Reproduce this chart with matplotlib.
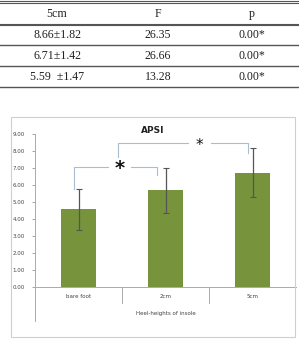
import matplotlib
matplotlib.use("Agg")
import matplotlib.pyplot as plt
from matplotlib.patches import Rectangle
from matplotlib.lines import Line2D

# ---- data ----
table_header = ["5cm", "F", "p"]
table_rows = [["8.66±1.82", "26.35", "0.00*"],
              ["6.71±1.42", "26.66", "0.00*"],
              ["5.59  ±1.47", "13.28", "0.00*"]]

categories = ["bare foot", "2cm", "5cm"]
means = [4.57, 5.68, 6.73]
errors = [1.20, 1.33, 1.45]
yticks = [0, 1, 2, 3, 4, 5, 6, 7, 8, 9]
title = "APSI"
xlabel = "Heel-heights of insole"
# (x_left, x_right, top, left_end, right_end, star_x)
brackets = [(-0.05, 0.90, 7.05, 5.75, 6.6, 0.47),
            (0.45, 1.95, 8.47, 7.65, 7.88, 1.39)]

W, H = 299, 339
fig = plt.figure(figsize=(W / 100, H / 100), dpi=100)
fig.patch.set_facecolor("white")

def fx(px):
    return px / W

def fy(py):
    return 1 - py / H

# ---- table ----
col_x = [57, 158, 252]
line_c = "#555555"
for y, lw in [(1, 0.8), (3, 0.8), (23.5, 0.8), (25, 0.8), (45, 1.0), (66, 1.0), (87, 1.0)]:
    fig.add_artist(Line2D([0, 1], [fy(y), fy(y)], color=line_c, lw=lw))
for x, t in zip(col_x, table_header):
    fig.text(fx(x), fy(14), t, ha="center", va="center",
             family="Liberation Serif", fontsize=8.6, color="#222222")
row_y = [35, 56, 77]
for ry, row in zip(row_y, table_rows):
    for x, t in zip(col_x, row):
        fig.text(fx(x), fy(ry), t, ha="center", va="center",
                 family="Liberation Serif", fontsize=8.6, color="#222222")

# ---- chart frame ----
fig.add_artist(Rectangle((fx(11), fy(337)), fx(295) - fx(11), fy(117) - fy(337),
                         transform=fig.transFigure, fill=False, ec="#cfcfcf", lw=0.8))

ax_l, ax_r, ax_t, ax_b = 35, 296, 134, 287
ax = fig.add_axes([fx(ax_l), fy(ax_b), fx(ax_r) - fx(ax_l), fy(ax_t) - fy(ax_b)])
x = list(range(len(categories)))
ax.bar(x, means, width=0.4, color="#77933C", zorder=2)
ax.errorbar(x, means, yerr=errors, fmt="none", ecolor="#555555", elinewidth=0.9,
            capsize=2, capthick=0.8, zorder=3)
ax.set_xlim(-0.5, 2.5)
ax.set_ylim(0, 9)
ax.set_yticks(yticks)
ax.set_yticklabels([f"{v:.2f}" for v in yticks], fontsize=4, color="#444444")
ax.tick_params(axis="y", length=2.5, width=0.6, color="#999999", pad=5)
ax.set_xticks([])
for s in ["top", "right"]:
    ax.spines[s].set_visible(False)
ax.spines["left"].set_visible(False)
ax.spines["bottom"].set_color("#aaaaaa")
ax.spines["bottom"].set_linewidth(0.7)
ax.set_facecolor("none")

tr = ax.get_xaxis_transform()
ax.add_line(Line2D([-0.5, -0.5], [-0.222, 1.0], transform=tr, color="#aaaaaa", lw=0.7, clip_on=False))
for b in [0.5, 1.5]:
    ax.add_line(Line2D([b, b], [0, -0.105], transform=tr, color="#aaaaaa", lw=0.7, clip_on=False))
for xi, c in zip(x, categories):
    ax.text(xi, -0.065, c, transform=tr, ha="center", va="center", fontsize=4, color="#444444")
ax.text(1, -0.176, xlabel, transform=tr, ha="center", va="center", fontsize=4, color="#444444")

fig.text(fx(153), fy(130), title, ha="center", va="center", fontsize=6.5,
         fontweight="bold", color="#222222")

# ---- significance brackets ----
bc = "#a9bcd0"
gap = 0.13
for (xl, xr, top, le, re, sx) in brackets:
    ax.plot([xl, xl, sx - gap], [le, top, top], color=bc, lw=0.8, clip_on=False, zorder=1)
    ax.plot([sx + gap, xr, xr], [top, top, re], color=bc, lw=0.8, clip_on=False, zorder=1)
ax.text(brackets[0][5], 6.95, "*", ha="center", va="center", fontsize=14,
        fontweight="bold", color="#111111")
ax.text(brackets[1][5], 8.35, "*", ha="center", va="center", fontsize=11, color="#111111")

fig.savefig("out.png", dpi=100, facecolor="white")
